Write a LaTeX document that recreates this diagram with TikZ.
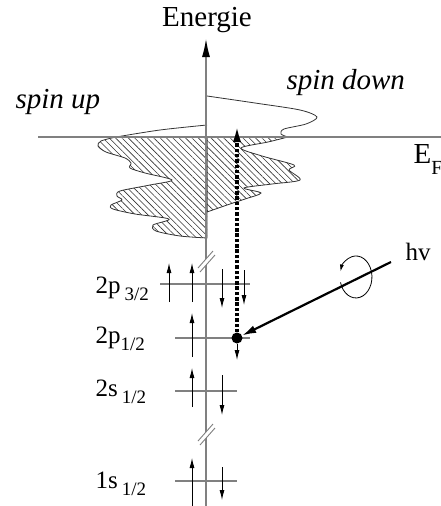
\documentclass[tikz,border=0pt]{standalone}
\usepackage{fontspec}
\setmainfont{Liberation Serif}
\usetikzlibrary{arrows.meta,patterns.meta}
\colorlet{lvlgray}{black!50}
\colorlet{dosline}{black!80}
\tikzset{
  lvl/.style={draw=lvlgray,line width=1.3pt},
  axisln/.style={draw=lvlgray,line width=1.2pt},
  spinarr/.style={-{Latex[length=10pt,width=5pt]},line width=0.9pt},
  dos/.style={draw=dosline,line width=0.8pt},
  hatch/.style={pattern={Lines[angle=-45,distance=4.5pt,line width=0.6pt]},pattern color=black!80},
  cdot/.style={circle,fill=black,inner sep=0pt,minimum size=11pt},
  lbl/.style={anchor=base west,font=\fontsize{25}{28}\selectfont},
  big/.style={font=\fontsize{29}{32}\selectfont},
  spinlbl/.style={anchor=base west,font=\itshape\fontsize{29}{32}\selectfont}
}
\newcommand{\lvlsub}[1]{\raisebox{-0.3em}{\fontsize{19}{19}\selectfont #1}}
\newcommand{\spin}[3]{\draw[spinarr] (#1,#2) -- (#1,#3);}
\newcommand{\axbreak}[1]{%
  \fill[white] (198,#1+9) -- (213,#1-8) -- (215,#1-4) -- (200,#1+13) -- cycle;
  \draw[lvlgray,line width=0.9pt] (198,#1+9) -- (213,#1-8) (200,#1+13) -- (215,#1-4);
}

\begin{document}
\begin{tikzpicture}[x=1pt,y=-1pt]
  \useasboundingbox (0,0) rectangle (441,506);
  % density of states, filled part below E_F
  \draw[dos,hatch] plot[smooth] coordinates {(116,137)(101,141)(98,146)(106,152)(125,158)(131,163)(130,168)(145,173)(172,180)(150,185)(120,191)(117,196)(122,200)(111,205)(113,209)(135,214)(169,219)(153,225)(156,231)(180,236)(207,238)} -- (207,137) -- cycle;
  \draw[dos,hatch] plot[smooth] coordinates {(288,137)(268,142)(241,148)(262,156)(294,165)(289,170)(300,180)(272,184)(244,188)(261,193)(245,199)(230,204)(207,212)} -- (207,137) -- cycle;
  % empty states above E_F
  \draw[dos] plot[smooth] coordinates {(207,96)(255,103)(300,110)(317,117)(306,124)(284,129)(281,134)(288,137)};
  \draw[dos] plot[smooth] coordinates {(207,125)(160,130)(116,137)};
  % energy axis and Fermi level
  \draw[axisln,-{Latex[length=18pt,width=8pt,color=black]}] (206,506) -- (206,39);
  \draw[axisln,line width=1.5pt] (38,137) -- (441,137);
  \axbreak{259}
  \axbreak{432}
  % core levels
  \draw[lvl] (160,284) -- (250,284);
  \draw[lvl] (175,338) -- (250,338);
  \draw[lvl] (175,391) -- (237,391);
  \draw[lvl] (175,481) -- (237,481);
  \spin{169}{302}{263} \spin{192}{302}{263} \spin{222}{269}{308} \spin{244}{270}{305}
  \spin{192}{357}{313}
  \spin{192}{407}{368} \spin{222}{375}{415}
  \spin{192}{506}{458} \spin{222}{467}{500}
  % excitation
  \node[cdot] (core) at (237,338) {};
  \coordinate (efinal) at (237,124);
  \coordinate (photon) at (391,262);
  \draw[line width=3.2pt,dash pattern=on 3.5pt off 1.8pt,-{Latex[length=18pt,width=8pt]}] (core) -- (efinal);
  \draw[spinarr] (core) -- (237,360);
  \draw[line width=2.2pt,-{Latex[length=14pt,width=8pt]}] (photon) -- (core);
  \draw[line width=0.8pt,-{Latex[length=7pt,width=4pt]}] (340.5,282.4) arc[start angle=195,end angle=525,x radius=16pt,y radius=21pt];
  % labels
  \node[big,anchor=base] (elabel) at (207,26) {Energie};
  \node[spinlbl] (uplabel) at (12,108) {spin up};
  \node[spinlbl] (dnlabel) at (283,89) {spin down};
  \node[big,anchor=base west] (eflabel) at (410,163) {E\raisebox{-0.4em}{\fontsize{20}{20}\selectfont F}};
  \node[anchor=base west,font=\fontsize{25}{28}\selectfont] (hvlabel) at (402,260) {hv};
  \node[lbl] (p32) at (92,293) {2p\,\lvlsub{3/2}};
  \node[lbl] (p12) at (92,343) {2p\lvlsub{1/2}};
  \node[lbl] (s12) at (92,396) {2s\,\lvlsub{1/2}};
  \node[lbl] (s1) at (92,488) {1s\,\lvlsub{1/2}};
\end{tikzpicture}
\end{document}
